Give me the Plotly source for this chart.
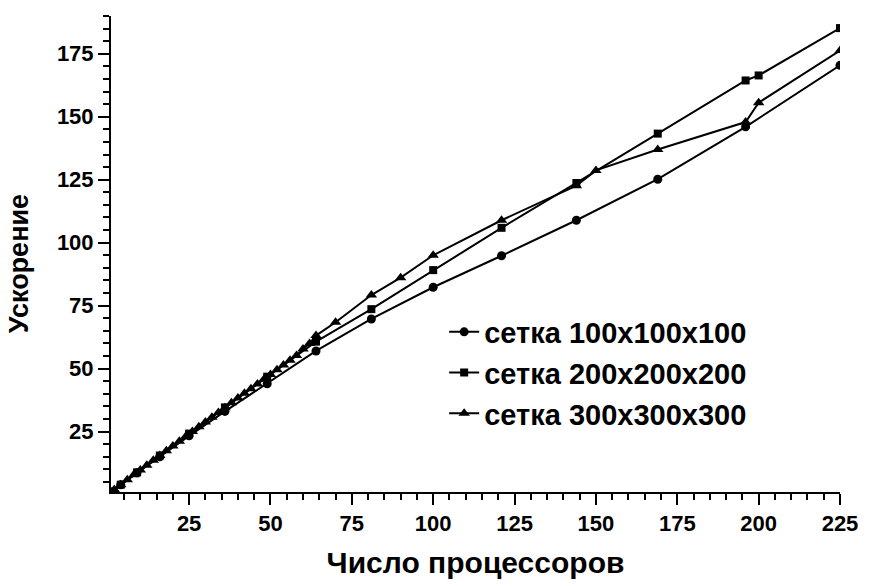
import plotly.graph_objects as go

# Data
x_100 = [1, 4, 9, 16, 25, 36, 49, 64, 81, 100, 121, 144, 169, 196, 225]
y_100 = [1.0, 3.9, 8.6, 15.0, 23.3, 33.0, 44.0, 57.0, 69.7, 82.3, 94.8, 108.9, 125.2, 146.0, 170.4]

x_200 = [1, 4, 9, 16, 25, 36, 49, 64, 81, 100, 121, 144, 169, 196, 200, 225]
y_200 = [1.0, 3.9, 8.8, 15.5, 24.2, 34.6, 46.8, 60.7, 73.6, 89.1, 105.9, 123.7, 143.3, 164.4, 166.4, 185.2]

x_300 = [1, 2, 4, 6, 8, 10, 12, 14, 16, 18, 20, 22, 24, 26, 28, 30, 32, 34, 36, 38, 40,
         42, 44, 46, 48, 50, 52, 54, 56, 58, 60, 62, 64, 70, 81, 90, 100, 121, 144, 150,
         169, 196, 200, 225]
y_300 = [1.0, 2.0, 3.9, 5.9, 7.8, 9.7, 11.6, 13.6, 15.5, 17.4, 19.3, 21.2, 23.1, 25.0, 26.9,
         28.8, 30.7, 32.6, 34.5, 36.4, 38.3, 40.2, 42.0, 43.9, 45.8, 47.7, 49.5, 51.4, 53.3,
         55.2, 57.8, 60.0, 63.1, 68.4, 79.2, 86.1, 95.0, 108.9, 122.6, 128.7, 137.0, 147.9,
         155.6, 176.3]

names = ["сетка 100x100x100", "сетка 200x200x200", "сетка 300x300x300"]
x_title = "Число процессоров"
y_title = "Ускорение"

FONT = "Liberation Sans, Arial, sans-serif"

fig = go.Figure()
series = [
    (x_100, y_100, "circle", 9, names[0]),
    (x_200, y_200, "square", 8, names[1]),
    (x_300, y_300, "triangle-up", 10, names[2]),
]
for i, (xs, ys, sym, sz, nm) in enumerate(series):
    fig.add_trace(go.Scatter(
        x=xs, y=ys, name=nm, mode="lines+markers",
        line=dict(color="black", width=2),
        marker=dict(symbol=sym, size=sz, color="black"),
        legendgroup=f"g{i}",
    ))

axis_common = dict(
    showline=True, linecolor="black", linewidth=2,
    ticks="outside", ticklen=11, tickwidth=2, tickcolor="black",
    showgrid=False, zeroline=False,
    tickfont=dict(family=FONT, size=22, color="black", weight="bold"),
    minor=dict(ticks="outside", ticklen=6, tickwidth=2, tickcolor="black", dtick=5, showgrid=False),
    mirror=False,
)

fig.update_layout(
    width=870, height=586,
    margin=dict(l=111, r=26, t=16, b=92),
    plot_bgcolor="white", paper_bgcolor="white",
    font=dict(family=FONT, color="black"),
    xaxis=dict(range=[1, 225], tick0=0, dtick=25,
               title=dict(text=x_title, standoff=17,
                          font=dict(family=FONT, size=30, color="black", weight="bold")),
               **axis_common),
    yaxis=dict(range=[1, 190], tick0=0, dtick=25, **axis_common),
    legend=dict(x=0.457, y=0.250, xanchor="left", yanchor="middle",
                bgcolor="rgba(0,0,0,0)", tracegroupgap=0,
                font=dict(family=FONT, size=29, color="black", weight="bold"),
                itemwidth=30),
    showlegend=True,
    annotations=[dict(
        text=y_title, textangle=-90, xref="paper", yref="paper",
        x=-0.126, y=0.479, xanchor="center", yanchor="middle", showarrow=False,
        font=dict(family=FONT, size=27, color="black", weight="bold"),
    )],
)

fig.write_html("out.html")
